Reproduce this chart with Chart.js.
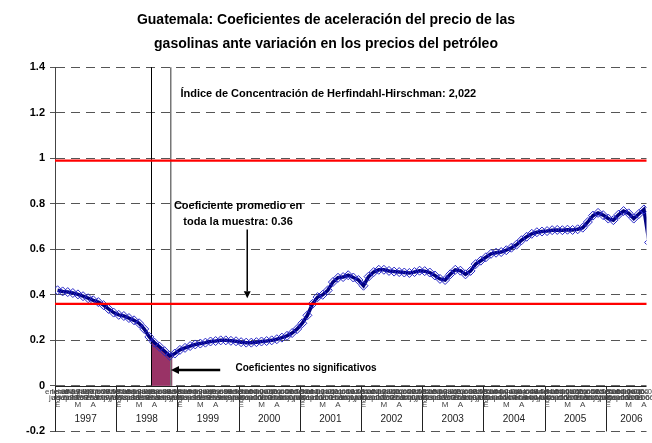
<!DOCTYPE html>
<html>
<head>
<meta charset="utf-8">
<script src="https://cdn.jsdelivr.net/npm/chart.js@4/dist/chart.umd.min.js"></script>
<style>
  html, body { margin: 0; padding: 0; background: #fff; }
  #wrap { width: 652px; height: 443px; }
</style>
</head>
<body>
<div id="wrap"><canvas id="coefChart"></canvas></div>
<script>
// años del eje de categorías y abreviaturas de meses
const years = ['1997', '1998', '1999', '2000', '2001', '2002', '2003', '2004', '2005', '2006'];
const months = ['ene', 'feb', 'mar', 'abr', 'may', 'jun', 'jul', 'ago', 'sep', 'oct', 'nov', 'dic'];

// coeficiente mensual, ene-1997 en adelante (el último queda fuera del área)
const coef = [
  0.42, 0.415, 0.412, 0.408, 0.402, 0.394, 0.385, 0.376, 0.368, 0.355, 0.338, 0.322,
  0.312, 0.307, 0.298, 0.288, 0.275, 0.25, 0.215, 0.19, 0.172, 0.152, 0.132, 0.142,
  0.158, 0.167, 0.175, 0.182, 0.186, 0.19, 0.195, 0.197, 0.2, 0.2, 0.198, 0.196,
  0.192, 0.19, 0.19, 0.192, 0.195, 0.197, 0.2, 0.205, 0.212, 0.22, 0.232, 0.25,
  0.275, 0.31, 0.36, 0.39, 0.4, 0.42, 0.456, 0.475, 0.478, 0.486, 0.476, 0.465,
  0.44, 0.48, 0.5, 0.51, 0.51, 0.505, 0.502, 0.5, 0.498, 0.496, 0.5, 0.506,
  0.504, 0.498, 0.485, 0.47, 0.465, 0.49, 0.51, 0.506, 0.49, 0.505, 0.535, 0.55,
  0.565, 0.58, 0.585, 0.588, 0.596, 0.607, 0.62, 0.64, 0.655, 0.668, 0.675, 0.678,
  0.68, 0.684, 0.685, 0.684, 0.686, 0.685, 0.688, 0.695, 0.72, 0.748, 0.76, 0.75,
  0.735, 0.728, 0.752, 0.768, 0.758, 0.735, 0.755, 0.775, 0.63,
];

// líneas rojas de referencia: 1 y promedio de la muestra
const refLines = [0.99, 0.36];
const avgCoef = 0.36;
const hhi = '2,022';

// meses (en unidades de mes desde ene-1997) del tramo no significativo
const shadeFrom = 18.9;
const shadeTo = 23.0;
const markLeft = 18.9;
const markRight = 22.7;

const monthsShown = 116;

const FONT = 'Arial, "Liberation Sans", sans-serif';

function arrow(ctx, x1, y1, x2, y2, w, head) {
  const a = Math.atan2(y2 - y1, x2 - x1);
  ctx.save();
  ctx.strokeStyle = '#000';
  ctx.fillStyle = '#000';
  ctx.lineWidth = w;
  ctx.beginPath();
  ctx.moveTo(x1, y1);
  ctx.lineTo(x2 - Math.cos(a) * head, y2 - Math.sin(a) * head);
  ctx.stroke();
  ctx.beginPath();
  ctx.moveTo(x2, y2);
  ctx.lineTo(x2 - Math.cos(a) * head - Math.sin(a) * head * 0.5, y2 - Math.sin(a) * head + Math.cos(a) * head * 0.5);
  ctx.lineTo(x2 - Math.cos(a) * head + Math.sin(a) * head * 0.5, y2 - Math.sin(a) * head - Math.cos(a) * head * 0.5);
  ctx.closePath();
  ctx.fill();
  ctx.restore();
}

const decor = {
  id: 'decor',
  beforeDatasetsDraw(chart) {
    const { ctx, chartArea: area, scales: { x, y } } = chart;
    const pts = chart.getDatasetMeta(0).data;
    const y0 = y.getPixelForValue(0);

    // área sombreada bajo la curva
    ctx.save();
    ctx.beginPath();
    const sx1 = x.getPixelForValue(shadeFrom);
    const sx2 = x.getPixelForValue(shadeTo);
    ctx.rect(sx1, area.top, sx2 - sx1, y0 - area.top);
    ctx.clip();
    ctx.beginPath();
    ctx.moveTo(pts[0].x, y0);
    pts.forEach((p) => ctx.lineTo(p.x, p.y));
    ctx.lineTo(pts[pts.length - 1].x, y0);
    ctx.closePath();
    ctx.fillStyle = '#993366';
    ctx.fill();
    ctx.restore();

    // líneas verticales
    ctx.save();
    ctx.lineWidth = 1;
    ctx.strokeStyle = '#000';
    let px = Math.round(x.getPixelForValue(markLeft)) + 0.5;
    ctx.beginPath(); ctx.moveTo(px, area.top); ctx.lineTo(px, y0); ctx.stroke();
    ctx.strokeStyle = '#777';
    ctx.lineWidth = 1.5;
    px = x.getPixelForValue(markRight);
    ctx.beginPath(); ctx.moveTo(px, area.top); ctx.lineTo(px, y0); ctx.stroke();
    ctx.restore();
  },
  afterDatasetsDraw(chart) {
    const { ctx, chartArea: area, scales: { x, y } } = chart;
    const y0 = y.getPixelForValue(0);
    const yb = y.getPixelForValue(-0.2);

    ctx.save();
    // eje de categorías dentro del área
    ctx.fillStyle = '#fff';
    ctx.fillRect(area.left + 1, y0, area.right - area.left, yb - y0 - 1);
    ctx.strokeStyle = '#222';
    ctx.lineWidth = 1;
    ctx.beginPath();
    ctx.moveTo(area.left, Math.round(y0) + 0.5);
    ctx.lineTo(area.right, Math.round(y0) + 0.5);
    ctx.stroke();

    years.forEach((yr, k) => {
      const xs = Math.round(x.getPixelForValue(k * 12)) + 0.5;
      ctx.beginPath();
      ctx.moveTo(xs, y0);
      ctx.lineTo(xs, yb);
      ctx.stroke();
    });

    // etiquetas de mes (amontonadas como en el original)
    ctx.fillStyle = '#444';
    ctx.font = '8px ' + FONT;
    ctx.textAlign = 'center';
    ctx.textBaseline = 'middle';
    for (let m = 0; m < monthsShown; m++) {
      const xm = x.getPixelForValue(m + 0.5);
      const yr = years[Math.floor(m / 12)].slice(2);
      ctx.fillText(months[m % 12] + '-' + yr, xm, y0 + 6);
      ctx.fillText(months[(m + 6) % 12] + yr, xm, y0 + 12);
      if (m % 12 === 0 || m % 12 === 4 || m % 12 === 7) {
        ctx.fillText(months[m % 12].charAt(0).toUpperCase(), xm, y0 + 19);
      }
    }

    ctx.font = '10px ' + FONT;
    ctx.fillStyle = '#222';
    years.forEach((yr, k) => {
      const w = ctx.measureText(yr).width;
      let cx = x.getPixelForValue(k * 12 + 6);
      cx = Math.min(cx, area.right - w / 2 - 4);
      ctx.fillText(yr, cx, y.getPixelForValue(-0.145));
    });

    // líneas rojas
    ctx.strokeStyle = '#ff0000';
    ctx.lineWidth = 2.2;
    refLines.forEach((v) => {
      const py = y.getPixelForValue(v);
      ctx.beginPath();
      ctx.moveTo(area.left, py);
      ctx.lineTo(area.right, py);
      ctx.stroke();
    });

    // textos
    ctx.fillStyle = '#000';
    ctx.font = 'bold 11px ' + FONT;
    ctx.textAlign = 'center';
    ctx.fillText('Índice de Concentración de Herfindahl-Hirschman: ' + hhi,
      x.getPixelForValue(53.6), y.getPixelForValue(1.283));
    ctx.fillText('Coeficiente promedio en', x.getPixelForValue(35.9), y.getPixelForValue(0.791));
    ctx.fillText('toda la muestra: ' + avgCoef, x.getPixelForValue(35.9), y.getPixelForValue(0.722));
    ctx.font = 'bold 10px ' + FONT;
    ctx.textAlign = 'left';
    ctx.fillText('Coeficientes no significativos', x.getPixelForValue(35.4), y.getPixelForValue(0.078));
    ctx.restore();

    arrow(ctx, x.getPixelForValue(37.7), y.getPixelForValue(0.687),
      x.getPixelForValue(37.7), y.getPixelForValue(0.385), 1.5, 7);
    arrow(ctx, x.getPixelForValue(32.4), y.getPixelForValue(0.07),
      x.getPixelForValue(22.75), y.getPixelForValue(0.07), 2.5, 8);
  },
};

const ctx = document.getElementById('coefChart');
new Chart(ctx, {
  type: 'line',
  data: {
    datasets: [
      {
        label: 'Coeficiente',
        data: coef.map((v, i) => ({ x: i + 0.5, y: v })),
        borderColor: '#000080',
        borderWidth: 3.5,
        pointStyle: 'rectRot',
        pointRadius: 4.5,
        pointBorderWidth: 1,
        pointBorderColor: '#2828c8',
        pointBackgroundColor: 'rgba(255,255,255,0)',
        tension: 0,
        clip: 0,
      },
    ],
  },
  options: {
    responsive: true,
    maintainAspectRatio: false,
    animation: false,
    layout: { padding: { left: 0, right: 0, top: 0, bottom: 6 } },
    plugins: {
      legend: { display: false },
      tooltip: { enabled: false },
      title: {
        display: true,
        text: [
          'Guatemala: Coeficientes de aceleración del precio de las',
          'gasolinas ante variación en los precios del petróleo',
        ],
        color: '#000',
        font: { family: FONT, size: 14, weight: 'bold', lineHeight: 1.65 },
        padding: { top: 9, bottom: 12 },
      },
    },
    scales: {
      x: {
        type: 'linear',
        min: 0,
        max: monthsShown,
        display: false,
      },
      y: {
        min: -0.2,
        max: 1.4,
        ticks: {
          stepSize: 0.2,
          color: '#000',
          font: { family: FONT, size: 11, weight: 'bold' },
          padding: 5,
          callback: (v) => String(Math.round(v * 10) / 10 || 0),
        },
        grid: {
          color: '#555',
          lineWidth: 1,
          tickLength: 5,
          drawOnChartArea: true,
        },
        border: { display: true, color: '#444', width: 1, dash: [9, 6] },
        afterFit(scale) { scale.width = 55; },
      },
    },
  },
  plugins: [decor],
});
</script>
</body>
</html>
